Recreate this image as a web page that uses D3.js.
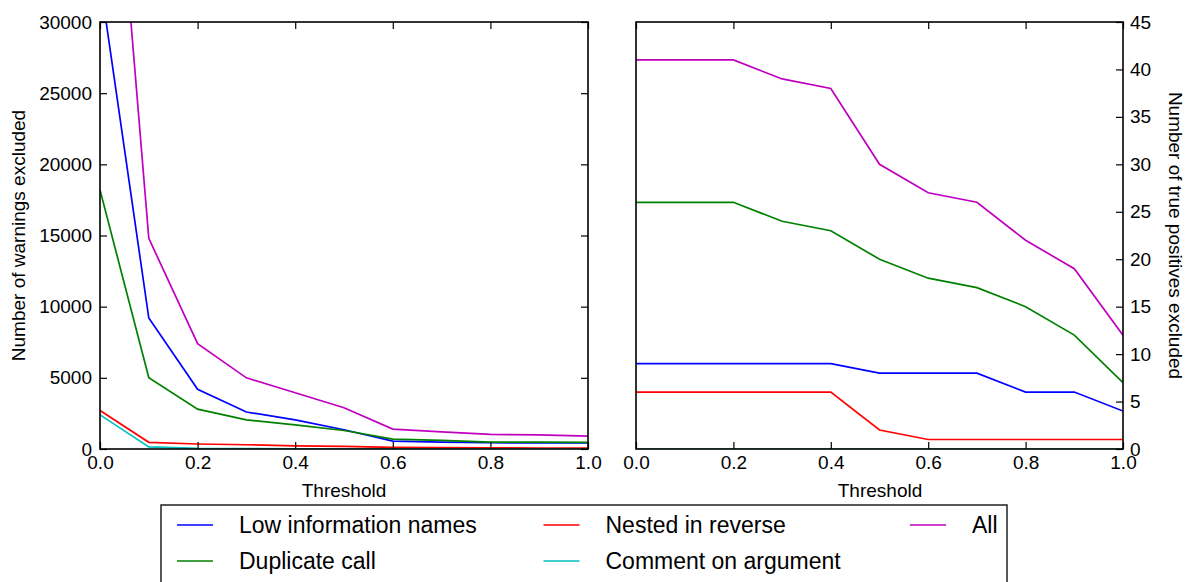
<!DOCTYPE html>
<html>
<head>
<meta charset="utf-8">
<script src="https://cdn.jsdelivr.net/npm/d3@7"></script>
<style>
    body { margin: 0; background: #fff; }
    text { font-family: "Liberation Sans", Arial, sans-serif; fill: #000; }
</style>
</head>
<body>
<script>
//thresholds on the x axis of both panels
var thresholds = [0.0, 0.1, 0.2, 0.3, 0.4, 0.5, 0.6, 0.7, 0.8, 0.9, 1.0];

//left panel: number of warnings excluded
var warnLowInfo   = [33000, 9200, 4200, 2600, 2050, 1350, 560, 480, 440, 430, 420];
var warnDuplicate = [18200, 5000, 2800, 2050, 1700, 1300, 700, 600, 490, 480, 460];
var warnNested    = [2700, 470, 350, 300, 220, 180, 120, 100, 80, 70, 60];
var warnComment   = [2400, 150, 40, 25, 15, 10, 5, 5, 5, 5, 0];
var warnAll       = [56300, 14800, 7400, 5000, 3950, 2900, 1400, 1200, 1030, 990, 900];

//right panel: number of true positives excluded
var tpLowInfo   = [9, 9, 9, 9, 9, 8, 8, 8, 6, 6, 4];
var tpDuplicate = [26, 26, 26, 24, 23, 20, 18, 17, 15, 12, 7];
var tpNested    = [6, 6, 6, 6, 6, 2, 1, 1, 1, 1, 1];
var tpComment   = [0, 0, 0, 0, 0, 0, 0, 0, 0, 0, 0];
var tpAll       = [41, 41, 41, 39, 38, 30, 27, 26, 22, 19, 12];

//series names and colours, in legend order
var seriesNames  = ["Low information names", "Duplicate call", "Nested in reverse", "Comment on argument", "All"];
var seriesColors = ["#0000ff", "#008000", "#ff0000", "#00bfbf", "#bf00bf"];

//tick values
var xTicks    = [0.0, 0.2, 0.4, 0.6, 0.8, 1.0];
var warnTicks = [0, 5000, 10000, 15000, 20000, 25000, 30000];
var tpTicks   = [0, 5, 10, 15, 20, 25, 30, 35, 40, 45];

window.onload = drawChart();

function drawChart(){

    var width = 1191,
        height = 582;

    var svg = d3.select("body")
        .append("svg")
        .attr("width", width)
        .attr("height", height);

    //shared y extent of both frames
    var top = 22,
        bottom = 449;

    var warnSeries = [warnLowInfo, warnDuplicate, warnNested, warnComment, warnAll];
    var tpSeries = [tpLowInfo, tpDuplicate, tpNested, tpComment, tpAll];

    //left panel
    var xLeft = d3.scaleLinear().domain([0, 1]).range([100, 588]);
    var yLeft = d3.scaleLinear().domain([0, 30000]).range([bottom, top]);
    drawPanel("left", xLeft, yLeft, warnSeries, warnTicks);

    //right panel
    var xRight = d3.scaleLinear().domain([0, 1]).range([636, 1123]);
    var yRight = d3.scaleLinear().domain([0, 45]).range([bottom, top]);
    drawPanel("right", xRight, yRight, tpSeries, tpTicks);

    //axis titles
    svg.append("text")
        .attr("x", 344)
        .attr("y", 497)
        .attr("text-anchor", "middle")
        .attr("font-size", 19)
        .text("Threshold");

    svg.append("text")
        .attr("x", 880)
        .attr("y", 497)
        .attr("text-anchor", "middle")
        .attr("font-size", 19)
        .text("Threshold");

    svg.append("text")
        .attr("transform", "translate(25," + (top + bottom) / 2 + ") rotate(-90)")
        .attr("text-anchor", "middle")
        .attr("font-size", 19)
        .text("Number of warnings excluded");

    svg.append("text")
        .attr("transform", "translate(1169," + (top + bottom) / 2 + ") rotate(90)")
        .attr("text-anchor", "middle")
        .attr("font-size", 19)
        .text("Number of true positives excluded");

    //legend box, cut off by the bottom edge like the original
    var legend = svg.append("g").attr("class", "legend");
    legend.append("rect")
        .attr("x", 161)
        .attr("y", 505)
        .attr("width", 846)
        .attr("height", 100)
        .attr("fill", "#fff")
        .attr("stroke", "#222")
        .attr("stroke-width", 1.5);

    var entries = legend.selectAll(".entry")
        .data(seriesNames)
        .enter()
        .append("g")
        .attr("class", "entry")
        .attr("transform", function(d, i){
            var col = Math.floor(i / 2), row = i % 2;
            return "translate(" + (177 + col * 366.5) + "," + (525 + row * 36) + ")";
        });

    entries.append("line")
        .attr("x1", 0)
        .attr("x2", 36)
        .attr("stroke", function(d, i){ return seriesColors[i]; })
        .attr("stroke-width", 1.5);

    entries.append("text")
        .attr("x", 62)
        .attr("dy", "0.35em")
        .attr("font-size", 23)
        .text(function(d){ return d; });

    function drawPanel(side, x, y, series, yTicks){
        var g = svg.append("g").attr("class", "panel-" + side);

        //clip lines to the frame
        g.append("clipPath")
            .attr("id", "clip-" + side)
            .append("rect")
            .attr("x", x.range()[0])
            .attr("y", top)
            .attr("width", x.range()[1] - x.range()[0])
            .attr("height", bottom - top);

        var line = d3.line()
            .x(function(d, i){ return x(thresholds[i]); })
            .y(function(d){ return y(d); });

        g.append("g")
            .attr("clip-path", "url(#clip-" + side + ")")
            .selectAll("path")
            .data(series)
            .enter()
            .append("path")
            .attr("d", line)
            .attr("fill", "none")
            .attr("stroke", function(d, i){ return seriesColors[i]; })
            .attr("stroke-width", 1.7);

        //inward ticks on the x axis, top and bottom
        g.append("g")
            .attr("transform", "translate(0," + bottom + ")")
            .call(d3.axisBottom(x).tickValues(xTicks).tickSize(-7).tickPadding(7).tickFormat(d3.format(".1f")));
        g.append("g")
            .attr("transform", "translate(0," + top + ")")
            .call(d3.axisTop(x).tickValues(xTicks).tickSize(-7).tickFormat(""));

        if (side == "left"){
            g.append("g")
                .attr("transform", "translate(" + x.range()[0] + ",0)")
                .call(d3.axisLeft(y).tickValues(yTicks).tickSize(-7).tickPadding(8).tickFormat(d3.format("d")));
            g.append("g")
                .attr("transform", "translate(" + x.range()[1] + ",0)")
                .call(d3.axisRight(y).tickValues(yTicks).tickSize(-7).tickFormat(""));
        } else {
            g.append("g")
                .attr("transform", "translate(" + x.range()[1] + ",0)")
                .call(d3.axisRight(y).tickValues(yTicks).tickSize(-7).tickPadding(7).tickFormat(d3.format("d")));
        }

        g.selectAll(".domain").remove();
        g.selectAll(".tick line").attr("stroke", "#000").attr("stroke-width", 1.2);
        g.selectAll(".tick text")
            .attr("font-size", 19)
            .attr("font-family", "'Liberation Sans', Arial, sans-serif")
            .attr("fill", "#000");

        //frame
        g.append("rect")
            .attr("x", x.range()[0])
            .attr("y", top)
            .attr("width", x.range()[1] - x.range()[0])
            .attr("height", bottom - top)
            .attr("fill", "none")
            .attr("stroke", "#000")
            .attr("stroke-width", 1.6);
    }
};
</script>
</body>
</html>
